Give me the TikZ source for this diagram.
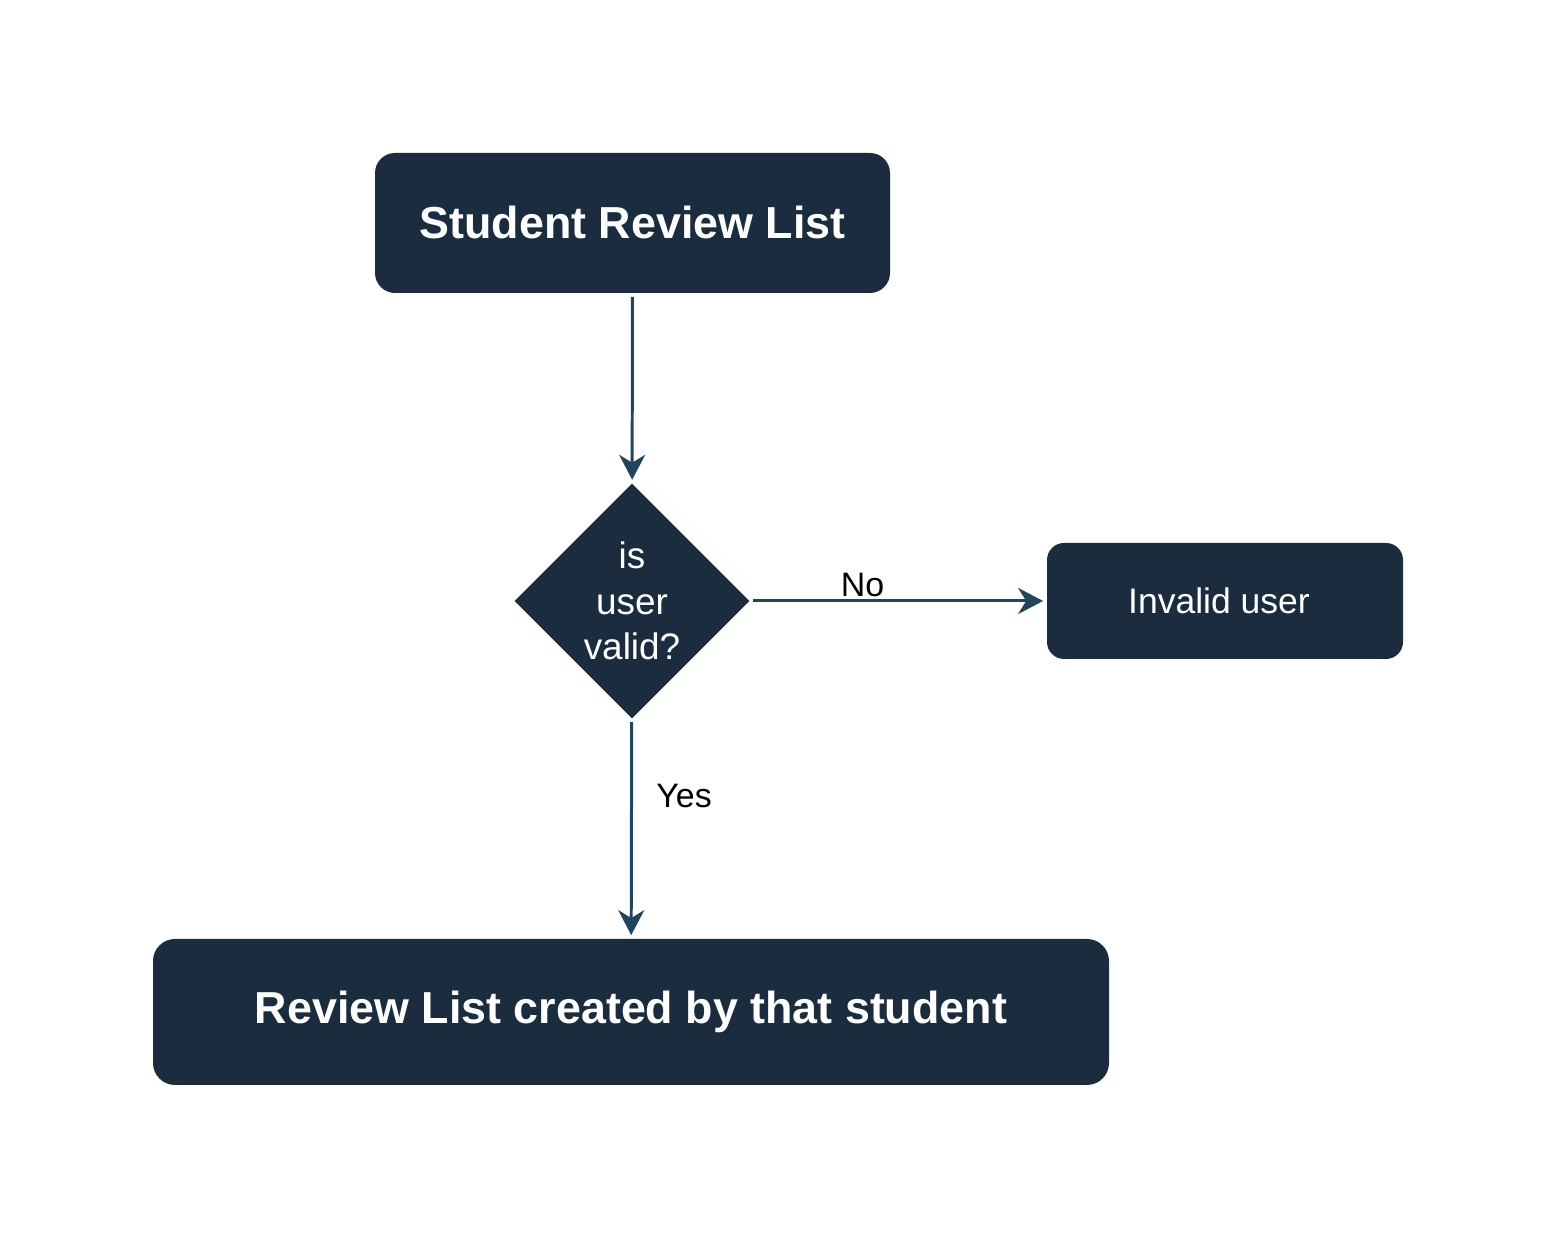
\documentclass[tikz,border=0pt]{standalone}
\usepackage{fontspec}
\setmainfont{Liberation Sans}
\usetikzlibrary{arrows.meta}
\usetikzlibrary{shapes.geometric}
\definecolor{navy}{HTML}{1A2C3E}
\definecolor{edge}{HTML}{23445D}

\begin{document}
\begin{tikzpicture}[box/.style = {rounded corners=0.4cm, fill=navy, text=white}, flow/.style = {line width=1.7pt, edge, -{Stealth[length=0.5cm,width=0.52cm,inset=0.16cm]}, shorten <=0.07cm, shorten >=0.07cm}]
	\useasboundingbox (0,0) rectangle (31.14,24.78);
	\begin{scope}[every node/.style={box}]
		\node[minimum width=10.3cm,minimum height=2.8cm,font=\fontsize{25.5}{30}\selectfont\bfseries] (S) at (12.65,20.32) {Student Review List};
		\node[diamond,sharp corners,aspect=1,inner sep=0pt,minimum width=4.7cm,minimum height=4.7cm,align=center,font=\fontsize{21}{26}\selectfont] (V) at (12.64,12.76) {is\\user\\valid?};
		\node[minimum width=7.12cm,minimum height=2.32cm,rounded corners=0.34cm,font=\fontsize{20.2}{24}\selectfont] (I) at (24.5,12.76) {Invalid user\kern0.24cm};
		\node[minimum width=19.12cm,minimum height=2.92cm,rounded corners=0.44cm,font=\fontsize{25.5}{30}\selectfont\bfseries] (R) at (12.62,4.54) {\raisebox{-0.08cm}{Review List created by that student}};
	\end{scope}
	\draw [flow] (S) -- (V);
	\draw [flow] (V) -- node[above=-2pt,pos=0.38,text=black,font=\fontsize{19.3}{23}\selectfont] {No} (I);
	\draw [flow] (V) -- node[right=0.35cm,pos=0.35,text=black,font=\fontsize{19.3}{23}\selectfont] {Yes} (R);
\end{tikzpicture}
\end{document}
